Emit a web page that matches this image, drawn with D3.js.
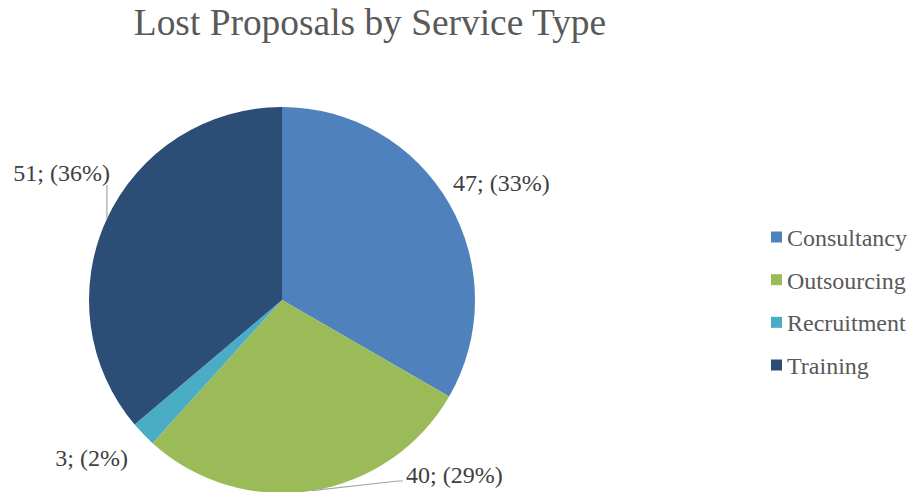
<!DOCTYPE html>
<html>
<head>
<meta charset="utf-8">
<script src="https://cdn.jsdelivr.net/npm/d3@7"></script>
<style>
  html, body { margin: 0; padding: 0; background: #fff; }
  svg { display: block; }
  text { font-family: "Liberation Serif", "Times New Roman", serif; }
</style>
</head>
<body>
<svg id="chart" width="913" height="492"></svg>
<script>
// Lost proposals per service type
const categories = ["Consultancy", "Outsourcing", "Recruitment", "Training"];
const counts = [47, 40, 3, 51];
const percentLabels = [33, 29, 2, 36];
const colors = ["#4F81BD", "#9BBB59", "#4BACC6", "#2C4D75"];
const title = "Lost Proposals by Service Type";

const svg = d3.select("#chart");
const cx = 282, cy = 300, R = 193;

svg.append("text")
  .attr("x", 370).attr("y", 35)
  .attr("text-anchor", "middle")
  .attr("font-size", 37.4)
  .attr("fill", "#595959")
  .text(title);

const data = categories.map((c, i) => ({ name: c, value: counts[i], pct: percentLabels[i], color: colors[i] }));

const pie = d3.pie().sort(null).value(d => d.value);
const arc = d3.arc().innerRadius(0).outerRadius(R);
const arcs = pie(data);

const g = svg.append("g").attr("transform", `translate(${cx},${cy})`);
g.selectAll("path.slice")
  .data(arcs)
  .join("path")
  .attr("class", "slice")
  .attr("d", arc)
  .attr("fill", d => d.data.color);

// mid point of a slice on the rim, in page coordinates
const edgePoint = d => {
  const a = (d.startAngle + d.endAngle) / 2;
  return [cx + R * Math.sin(a), cy - R * Math.cos(a)];
};

const labelPos = [
  { x: 453, y: 191, anchor: "start", leader: null },
  { x: 406, y: 483, anchor: "start", leader: "bottom" },
  { x: 128, y: 466, anchor: "end", leader: null },
  { x: 110, y: 181, anchor: "end", leader: "up" }
];

arcs.forEach((d, i) => {
  const p = labelPos[i];
  const [ex, ey] = edgePoint(d);
  if (p.leader === "up") {
    svg.append("path")
      .attr("d", `M${ex},${ey}L${ex},${p.y + 4}`)
      .attr("stroke", "#a6a6a6").attr("stroke-width", 1.2).attr("fill", "none");
  } else if (p.leader === "bottom") {
    svg.append("path")
      .attr("d", `M${ex},${ey}L${p.x - 8},${p.y - 2}L${p.x - 3},${p.y - 2}`)
      .attr("stroke", "#a6a6a6").attr("stroke-width", 1.2).attr("fill", "none");
  }
  svg.append("text")
    .attr("x", p.x).attr("y", p.y)
    .attr("text-anchor", p.anchor)
    .attr("font-size", 24)
    .attr("fill", "#404040")
    .text(`${d.data.value}; (${d.data.pct}%)`);
});

// legend
const legendY = d3.scalePoint().domain(categories).range([237, 365]);
const legend = svg.append("g");
data.forEach(d => {
  const y = legendY(d.name);
  legend.append("rect")
    .attr("x", 771).attr("y", y - 5.5)
    .attr("width", 11).attr("height", 11)
    .attr("fill", d.color);
  legend.append("text")
    .attr("x", 787).attr("y", y + 9)
    .attr("font-size", 24)
    .attr("fill", "#595959")
    .text(d.name);
});
</script>
</body>
</html>
